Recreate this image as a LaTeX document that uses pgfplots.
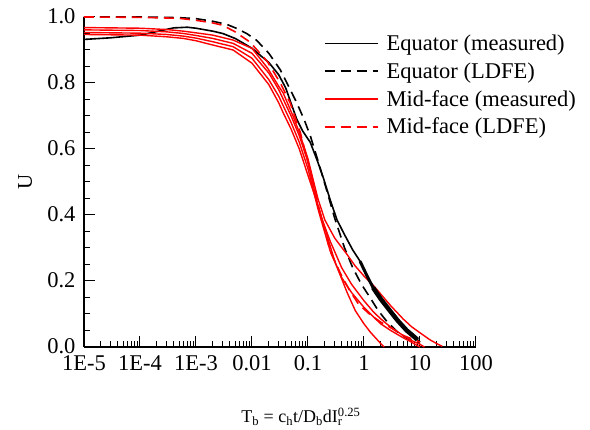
\documentclass[border=0pt]{standalone}
\usepackage{pgfplots}
\pgfplotsset{compat=1.18}
\usepackage{fontspec}
\setmainfont{Liberation Serif}
\newcommand\bigf{\fontsize{22.5}{27}\selectfont}
\begin{document}
\begin{tikzpicture}
\path[use as bounding box] (-84pt,-83pt) rectangle (506pt,347pt);
\begin{axis}[
  at={(0pt,0pt)}, anchor=south west,
  scale only axis, width=392pt, height=330pt,
  xmode=log, xmin=1e-5, xmax=100, ymin=0, ymax=1,
  axis x line=bottom, axis y line=left, axis line style={-, line width=1.2pt},
  tick align=inside, major tick length=11pt, minor tick length=6pt,
  tick style={line width=1pt, black},
  xtick={1e-5,1e-4,1e-3,1e-2,1e-1,1,10,100},
  xticklabels={1E-5,1E-4\hspace{10pt},1E-3\hspace{14pt},0.01,0.1,1,10,100},
  xticklabel style={yshift=-5pt},
  ytick={0,0.2,0.4,0.6,0.8,1.0}, minor y tick num=3,
  yticklabel style={/pgf/number format/fixed, /pgf/number format/fixed zerofill, /pgf/number format/precision=1, xshift=-5pt, yshift=1pt},
  /pgf/number format/assume math mode=true,
  ticklabel style={font=\bigf},
  clip=false,
  xlabel={T\textsubscript{b} = c\textsubscript{h}t/D\textsubscript{b}dI\rlap{\textsubscript{r}}\textsuperscript{0.25}},
  xlabel style={font=\fontsize{18}{22}\selectfont, at={(axis description cs:0,0)}, anchor=base, xshift=217pt, yshift=-76pt},
  ylabel={U},
  ylabel style={font=\fontsize{21}{25}\selectfont, at={(axis description cs:0,0.5)}, anchor=center, yshift=59pt},
  legend style={at={(rel axis cs:0.612,0.952)}, anchor=north west, draw=none, fill=none, font=\bigf,
    inner sep=0pt, row sep=6.5pt, nodes={inner sep=2pt}},
  legend cell align=left,
  legend image code/.code={\draw[#1] (0pt,0pt) -- (53pt,0pt); \path (59pt,0pt);},
]
% Equator measured
\addplot[black, line width=1.6pt] coordinates {
(1e-5,0.932) (3e-5,0.937) (1e-4,0.945) (2e-4,0.956) (4e-4,0.967) (7e-4,0.969) (1e-3,0.966)
(2e-3,0.957) (3e-3,0.950) (5e-3,0.935) (0.008,0.915) (0.01,0.905) (0.02,0.862) (0.03,0.825)
(0.04,0.785) (0.05,0.738) (0.063,0.69) (0.08,0.655) (0.11,0.62) (0.15,0.56) (0.19,0.51)
(0.25,0.445) (0.33,0.385) (0.45,0.34) (0.63,0.294) (0.85,0.26) (1.1,0.22) (1.45,0.18)
(2,0.145) (2.9,0.11) (4,0.08) (5.8,0.05) (8,0.03) (10,0.015)};
\addlegendentry{Equator (measured)}
% Equator LDFE
\addplot[black, line width=1.6pt, dash pattern=on 10pt off 6pt] coordinates {
(1e-5,1.0) (1e-4,1.0) (5e-4,0.998) (1e-3,0.995) (2e-3,0.987) (3.5e-3,0.978) (5.4e-3,0.965)
(0.008,0.95) (0.012,0.93) (0.02,0.89) (0.032,0.84) (0.045,0.79) (0.063,0.74) (0.085,0.69)
(0.11,0.64) (0.16,0.55) (0.22,0.47) (0.30,0.39) (0.45,0.30) (0.63,0.24) (0.9,0.19)
(1.28,0.15) (1.8,0.11) (2.6,0.076) (4,0.045) (6,0.025) (10,0.01)};
\addlegendentry{Equator (LDFE)}
% Mid-face measured (4 curves)
\addplot[red, line width=1.4pt] coordinates {
(1e-5,0.968) (1e-4,0.966) (3e-4,0.962) (6e-4,0.957) (1e-3,0.952) (2e-3,0.945) (4.6e-3,0.93)
(0.01,0.905) (0.019,0.845) (0.03,0.79) (0.036,0.77) (0.054,0.70) (0.07,0.65) (0.1,0.57)
(0.15,0.45) (0.2,0.385) (0.3,0.33) (0.5,0.28) (0.7,0.245) (1.0,0.215) (1.5,0.185) (2,0.16)
(3,0.125) (5,0.085) (7,0.062) (10,0.043) (15,0.022) (20,0.01) (25,0.002)};
\addlegendentry{Mid-face (measured)}
\addplot[red, line width=1.4pt, forget plot] coordinates {
(1e-5,0.961) (1e-4,0.959) (3e-4,0.955) (6e-4,0.95) (1e-3,0.944) (2e-3,0.935) (4.6e-3,0.92)
(0.01,0.89) (0.02,0.83) (0.03,0.78) (0.05,0.70) (0.07,0.64) (0.1,0.56) (0.15,0.43)
(0.18,0.385) (0.25,0.32) (0.4,0.24) (0.6,0.19) (1,0.14) (1.5,0.105) (2,0.085) (3,0.06)
(5,0.035) (7,0.02) (10,0.008) (12,0.0)};
\addplot[red, line width=1.4pt, forget plot] coordinates {
(1e-5,0.953) (1e-4,0.951) (3e-4,0.947) (6e-4,0.942) (1e-3,0.936) (2e-3,0.925) (4.6e-3,0.91)
(0.01,0.875) (0.02,0.81) (0.03,0.76) (0.05,0.68) (0.07,0.62) (0.1,0.54) (0.15,0.42)
(0.165,0.395) (0.25,0.29) (0.4,0.21) (0.6,0.165) (1,0.12) (1.5,0.09) (2,0.07) (3,0.05)
(5,0.028) (7,0.015) (9,0.004) (10,0.0)};
\addplot[red, line width=1.4pt, forget plot] coordinates {
(1e-5,0.947) (1e-4,0.945) (3e-4,0.94) (6e-4,0.935) (1e-3,0.928) (2e-3,0.915) (4.6e-3,0.9)
(0.01,0.86) (0.02,0.795) (0.03,0.74) (0.036,0.71) (0.05,0.66) (0.07,0.60) (0.1,0.52)
(0.15,0.43) (0.2,0.36) (0.3,0.26) (0.5,0.165) (0.7,0.11) (1,0.07) (1.3,0.045) (1.6,0.028)
(2,0.01) (2.3,0.0)};
% Mid-face LDFE
\addplot[red, line width=1.6pt, dash pattern=on 10pt off 6pt] coordinates {
(1e-5,1.0) (1e-4,0.999) (5e-4,0.996) (1e-3,0.99) (2e-3,0.982) (3e-3,0.975) (5e-3,0.955)
(0.0092,0.924) (0.019,0.864) (0.032,0.80) (0.048,0.74) (0.073,0.65) (0.11,0.53) (0.16,0.415)
(0.25,0.29) (0.4,0.215) (0.56,0.17) (0.8,0.13) (1.25,0.10) (2,0.075) (2.9,0.06) (5,0.035) (10,0.015)};
\addlegendentry{Mid-face (LDFE)}
% noisy thick tail of equator measured
\addplot[black, line width=3pt, forget plot] coordinates {
(0.85,0.26) (1.1,0.22) (1.45,0.18) (2,0.145)};
\addplot[black, line width=4.5pt, forget plot] coordinates {
(1.45,0.18) (2,0.145) (2.9,0.11) (4,0.08) (5.8,0.05) (8,0.03) (9,0.022)};
\end{axis}
\end{tikzpicture}
\end{document}
